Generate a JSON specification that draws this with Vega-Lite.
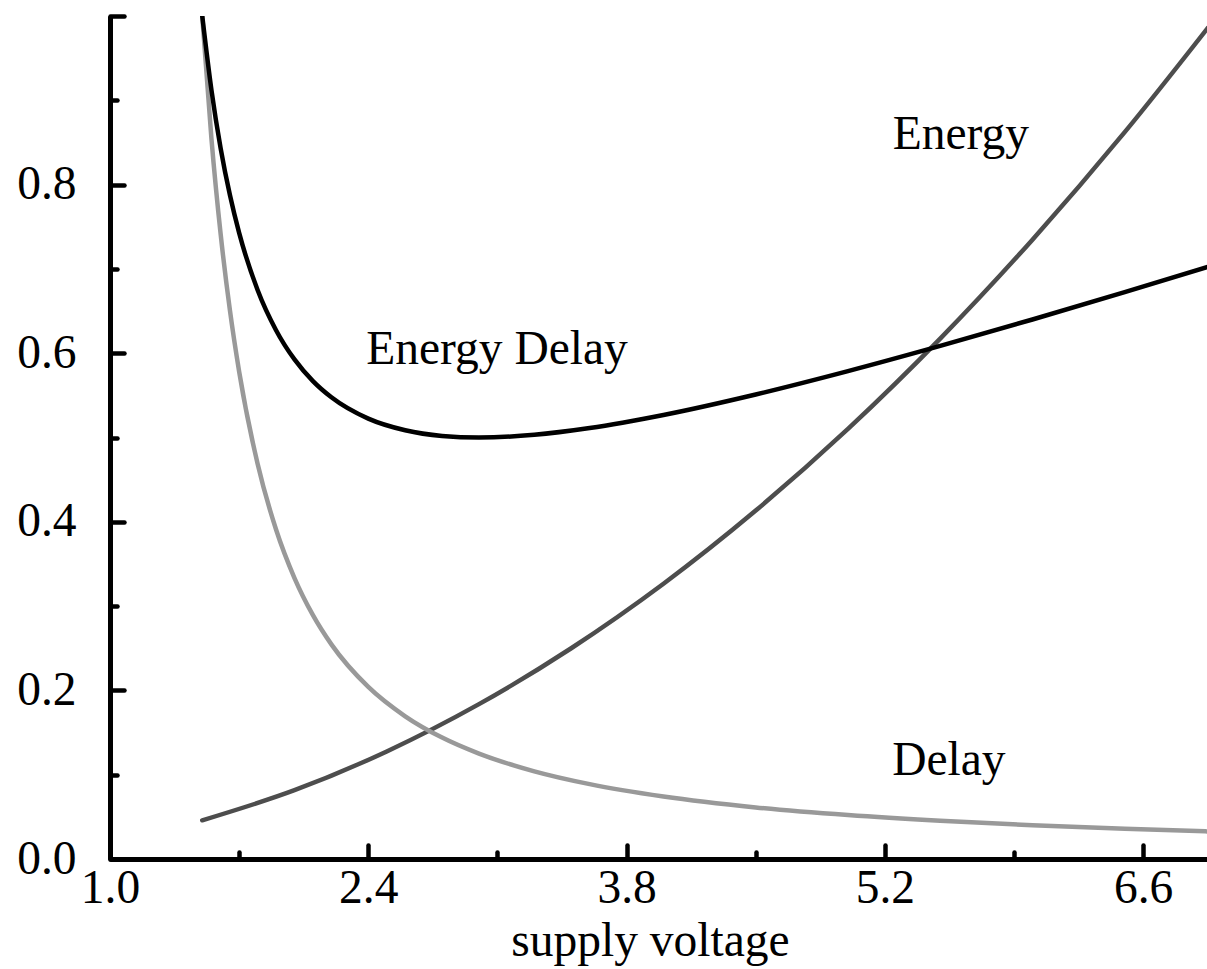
{
  "$schema": "https://vega.github.io/schema/vega-lite/v6.json",
  "width": 1097,
  "height": 843,
  "autosize": {"type": "none"},
  "padding": {"left": 110, "top": 16, "right": 0, "bottom": 110},
  "background": "white",
  "config": {
    "view": {"stroke": null},
    "font": "Liberation Serif",
    "axis": {
      "grid": false,
      "domainColor": "#000000",
      "domainWidth": 5,
      "tickColor": "#000000",
      "tickWidth": 4.5,
      "tickCap": "round",
      "labelFont": "Liberation Serif",
      "labelFontSize": 47.5,
      "labelColor": "#000000",
      "titleFont": "Liberation Serif",
      "titleFontSize": 47.5,
      "titleFontWeight": "normal",
      "titleColor": "#000000",
      "labelOverlap": false,
      "labelFlush": false
    }
  },
  "datasets": {
    "curves": [
      {"voltage": 1.5, "value": 0.0459, "series": "Energy"},
      {"voltage": 2.0, "value": 0.0816, "series": "Energy"},
      {"voltage": 2.5, "value": 0.1276, "series": "Energy"},
      {"voltage": 3.0, "value": 0.1837, "series": "Energy"},
      {"voltage": 3.5, "value": 0.25, "series": "Energy"},
      {"voltage": 4.0, "value": 0.3265, "series": "Energy"},
      {"voltage": 4.5, "value": 0.4133, "series": "Energy"},
      {"voltage": 5.0, "value": 0.5102, "series": "Energy"},
      {"voltage": 5.5, "value": 0.6173, "series": "Energy"},
      {"voltage": 6.0, "value": 0.7347, "series": "Energy"},
      {"voltage": 6.5, "value": 0.8622, "series": "Energy"},
      {"voltage": 6.95, "value": 0.9858, "series": "Energy"},

      {"voltage": 1.5, "value": 1.0, "series": "Delay"},
      {"voltage": 1.55, "value": 0.854, "series": "Delay"},
      {"voltage": 1.6, "value": 0.7407, "series": "Delay"},
      {"voltage": 1.65, "value": 0.6509, "series": "Delay"},
      {"voltage": 1.7, "value": 0.5782, "series": "Delay"},
      {"voltage": 1.8, "value": 0.4688, "series": "Delay"},
      {"voltage": 1.9, "value": 0.3909, "series": "Delay"},
      {"voltage": 2.0, "value": 0.3333, "series": "Delay"},
      {"voltage": 2.1, "value": 0.2893, "series": "Delay"},
      {"voltage": 2.2, "value": 0.2546, "series": "Delay"},
      {"voltage": 2.4, "value": 0.2041, "series": "Delay"},
      {"voltage": 2.6, "value": 0.1693, "series": "Delay"},
      {"voltage": 2.8, "value": 0.144, "series": "Delay"},
      {"voltage": 3.0, "value": 0.125, "series": "Delay"},
      {"voltage": 3.3, "value": 0.104, "series": "Delay"},
      {"voltage": 3.6, "value": 0.0888, "series": "Delay"},
      {"voltage": 4.0, "value": 0.0741, "series": "Delay"},
      {"voltage": 4.5, "value": 0.0612, "series": "Delay"},
      {"voltage": 5.0, "value": 0.0521, "series": "Delay"},
      {"voltage": 5.5, "value": 0.0453, "series": "Delay"},
      {"voltage": 6.0, "value": 0.04, "series": "Delay"},
      {"voltage": 6.5, "value": 0.0358, "series": "Delay"},
      {"voltage": 6.95, "value": 0.0327, "series": "Delay"},

      {"voltage": 1.5, "value": 1.0, "series": "Energy Delay"},
      {"voltage": 1.55, "value": 0.9119, "series": "Energy Delay"},
      {"voltage": 1.6, "value": 0.8428, "series": "Energy Delay"},
      {"voltage": 1.65, "value": 0.7876, "series": "Energy Delay"},
      {"voltage": 1.7, "value": 0.7427, "series": "Energy Delay"},
      {"voltage": 1.8, "value": 0.675, "series": "Energy Delay"},
      {"voltage": 1.9, "value": 0.6273, "series": "Energy Delay"},
      {"voltage": 2.0, "value": 0.5926, "series": "Energy Delay"},
      {"voltage": 2.1, "value": 0.5669, "series": "Energy Delay"},
      {"voltage": 2.2, "value": 0.5477, "series": "Energy Delay"},
      {"voltage": 2.4, "value": 0.5224, "series": "Energy Delay"},
      {"voltage": 2.6, "value": 0.5086, "series": "Energy Delay"},
      {"voltage": 2.8, "value": 0.5019, "series": "Energy Delay"},
      {"voltage": 3.0, "value": 0.5, "series": "Energy Delay"},
      {"voltage": 3.3, "value": 0.5032, "series": "Energy Delay"},
      {"voltage": 3.6, "value": 0.5112, "series": "Energy Delay"},
      {"voltage": 4.0, "value": 0.5267, "series": "Energy Delay"},
      {"voltage": 4.5, "value": 0.551, "series": "Energy Delay"},
      {"voltage": 5.0, "value": 0.5787, "series": "Energy Delay"},
      {"voltage": 5.5, "value": 0.6086, "series": "Energy Delay"},
      {"voltage": 6.0, "value": 0.64, "series": "Energy Delay"},
      {"voltage": 6.5, "value": 0.6725, "series": "Energy Delay"},
      {"voltage": 6.95, "value": 0.7024, "series": "Energy Delay"}
    ],
    "labels": [
      {"voltage": 5.612, "value": 0.842, "text": "Energy"},
      {"voltage": 3.098, "value": 0.587, "text": "Energy Delay"},
      {"voltage": 5.547, "value": 0.1, "text": "Delay"}
    ]
  },
  "resolve": {"axis": {"x": "independent", "y": "independent"}},
  "layer": [
    {
      "data": {"name": "curves"},
      "mark": {"type": "line", "strokeWidth": 4.5, "strokeCap": "round", "interpolate": "monotone", "clip": true},
      "encoding": {
        "x": {
          "field": "voltage",
          "type": "quantitative",
          "scale": {"domain": [1, 6.946], "nice": false, "zero": false},
          "axis": {
            "orient": "bottom",
            "title": "supply voltage",
            "titleX": 540,
            "titlePadding": 6,
            "values": [1.0, 2.4, 3.8, 5.2, 6.6],
            "format": ".1f",
            "ticks": false,
            "labelPadding": 5
          }
        },
        "y": {
          "field": "value",
          "type": "quantitative",
          "scale": {"domain": [0, 1], "nice": false},
          "axis": {
            "orient": "left",
            "title": null,
            "values": [0, 0.2, 0.4, 0.6, 0.8],
            "format": ".1f",
            "ticks": false,
            "labelPadding": 34
          }
        },
        "color": {
          "field": "series",
          "type": "nominal",
          "scale": {"domain": ["Energy", "Delay", "Energy Delay"], "range": ["#4d4d4d", "#999999", "#000000"]},
          "legend": null
        }
      }
    },
    {
      "data": {"name": "labels"},
      "mark": {"type": "text", "font": "Liberation Serif", "fontSize": 47.5, "align": "center", "baseline": "alphabetic", "color": "#000000"},
      "encoding": {
        "x": {
          "field": "voltage",
          "type": "quantitative",
          "scale": {"domain": [1, 6.946], "nice": false, "zero": false},
          "axis": {
            "orient": "bottom",
            "title": null,
            "values": [1.0, 1.7, 2.4, 3.1, 3.8, 4.5, 5.2, 5.9, 6.6],
            "labels": false,
            "domain": false,
            "tickSize": {"condition": {"test": "indexof([1.7, 3.1, 4.5, 5.9], datum.value) >= 0", "value": -7}, "value": -14}
          }
        },
        "y": {
          "field": "value",
          "type": "quantitative",
          "scale": {"domain": [0, 1], "nice": false},
          "axis": {
            "orient": "left",
            "title": null,
            "values": [0, 0.1, 0.2, 0.3, 0.4, 0.5, 0.6, 0.7, 0.8, 0.9, 1.0],
            "labels": false,
            "domain": false,
            "tickSize": {"condition": {"test": "indexof([0.1, 0.3, 0.5, 0.7, 0.9], datum.value) >= 0", "value": -7}, "value": -14}
          }
        },
        "text": {"field": "text", "type": "nominal"}
      }
    }
  ]
}
